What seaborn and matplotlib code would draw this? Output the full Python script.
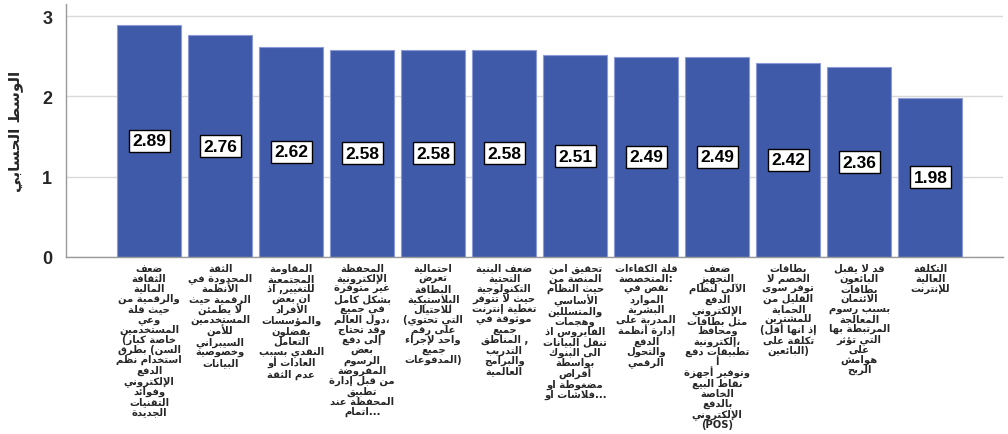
import re

import matplotlib
matplotlib.use("Agg")
import matplotlib.pyplot as plt
import seaborn as sns
import pandas as pd

# mean score for each obstacle (already sorted high -> low)
values = [2.89, 2.76, 2.62, 2.58, 2.58, 2.58, 2.51, 2.49, 2.49, 2.42, 2.36, 1.98]

# category labels, one string per bar, lines as they are wrapped on the chart
labels = [
    "ضعف\nالثقافة\nالمالية\nوالرقمية من\nحيث قلة\nوعي\nالمستخدمين\n(خاصة كبار\nالسن) بطرق\nاستخدام نظم\nالدفع\nالإلكتروني\nوفوائد\nالتقنيات\nالجديدة",
    "الثقة\nالمحدودة في\nالأنظمة\nالرقمية حيث\nلا يطمئن\nالمستخدمين\nللأمن\nالسيبراني\nوخصوصية\nالبيانات",
    "المقاومة\nالمجتمعية\nللتغيير, اذ\nان بعض\nالأفراد\nوالمؤسسات\nيفضلون\nالتعامل\nالنقدي بسبب\nالعادات أو\nعدم الثقة",
    "المحفظة\nالإلكترونية\nغير متوفرة\nبشكل كامل\nفي جميع\nدول العالم،\nوقد تحتاج\nإلى دفع\nبعض\nالرسوم\nالمفروضة\nمن قبل إدارة\nتطبيق\nالمحفظة عند\nاتمام...",
    "احتمالية\nتعرض\nالبطاقة\nالبلاستيكية\nللاحتيال\n(التي تحتوي\nعلى رقم\nواحد لإجراء\nجميع\nالمدفوعات)",
    "ضعف البنية\nالتحتية\nالتكنولوجية\nحيث لا تتوفر\nتغطية إنترنت\nموثوقة في\nجميع\nالمناطق ,\nالتدريب\nوالبرامج\nالعالمية",
    "تحقيق امن\nالمنصة من\nحيث النظام\nالأساسي\nوالمتسللين\nوهجمات\nالفايروس اذ\nتنقل البيانات\nالى البنوك\nبواسطة\nأقراص\nمضغوطة او\nفلاشات او...",
    "قلة الكفاءات\nالمتخصصة:\nنقص في\nالموارد\nالبشرية\nالمدربة على\nإدارة أنظمة\nالدفع\nوالتحول\nالرقمي",
    "ضعف\nالتجهيز\nالآلي لنظام\nالدفع\nالإلكتروني\nمثل بطاقات\nومحافظ\nإلكترونية،\nتطبيقات دفع\nأ\nوتوفير أجهزة\nنقاط البيع\nالخاصة\nبالدفع\nالإلكتروني\n(POS)",
    "بطاقات\nالخصم لا\nتوفر سوى\nالقليل من\nالحماية\nللمشترين\n(إذ انها أقل\nتكلفة على\nالبائعين)",
    "قد لا يقبل\nالبائعون\nبطاقات\nالائتمان\nبسبب رسوم\nالمعالجة\nالمرتبطة بها\nالتي تؤثر\nعلى\nهوامش\nالربح",
    "التكلفة\nالعالية\nللإنترنت",
]

y_label = "الوسط الحسابي"
y_ticks = [0, 1, 2, 3]

# --- small arabic shaping + bidi (matplotlib lays glyphs out left to right, unshaped) ---
TWO = {"آ": 0xFE81, "أ": 0xFE83, "ؤ": 0xFE85, "إ": 0xFE87, "ا": 0xFE8D, "ة": 0xFE93,
       "د": 0xFEA9, "ذ": 0xFEAB, "ر": 0xFEAD, "ز": 0xFEAF, "و": 0xFEED, "ى": 0xFEEF}
FOUR = {"ئ": 0xFE89, "ب": 0xFE8F, "ت": 0xFE95, "ث": 0xFE99, "ج": 0xFE9D, "ح": 0xFEA1,
        "خ": 0xFEA5, "س": 0xFEB1, "ش": 0xFEB5, "ص": 0xFEB9, "ض": 0xFEBD, "ط": 0xFEC1,
        "ظ": 0xFEC5, "ع": 0xFEC9, "غ": 0xFECD, "ف": 0xFED1, "ق": 0xFED5, "ك": 0xFED9,
        "ل": 0xFEDD, "م": 0xFEE1, "ن": 0xFEE5, "ه": 0xFEE9, "ي": 0xFEF1}
LAM_ALEF = {"آ": 0xFEF5, "أ": 0xFEF7, "إ": 0xFEF9, "ا": 0xFEFB}
MIRROR = {"(": ")", ")": "("}


def shape_word(word):
    # contextual forms, still in logical order
    units = []
    i = 0
    while i < len(word):
        if word[i] == "ل" and i + 1 < len(word) and word[i + 1] in LAM_ALEF:
            units.append(("LA", word[i + 1]))
            i += 2
        else:
            units.append(("C", word[i]))
            i += 1
    out = []
    for k, (kind, ch) in enumerate(units):
        prev = k > 0 and units[k - 1][0] == "C" and units[k - 1][1] in FOUR
        if kind == "LA":
            out.append(chr(LAM_ALEF[ch] + (1 if prev else 0)))
            continue
        nxt = k < len(units) - 1 and ch in FOUR
        if ch in FOUR:
            off = 3 if (prev and nxt) else 1 if prev else 2 if nxt else 0
            out.append(chr(FOUR[ch] + off))
        elif ch in TWO:
            out.append(chr(TWO[ch] + (1 if prev else 0)))
        elif ch == "ء":
            out.append("\uFE80")
        else:
            out.append(ch)
    return "".join(out)


def visual(line):
    # left-to-right base direction, arabic runs reversed (as the SPSS output does)
    s = re.sub("[\u0621-\u064A]+", lambda m: shape_word(m.group(0)), line)
    kinds = []
    for ch in s:
        if "\uFE70" <= ch <= "\uFEFF":
            kinds.append("R")
        elif ch.isalnum():
            kinds.append("L")
        else:
            kinds.append("N")
    res = list(kinds)
    for i, k in enumerate(kinds):
        if k != "N":
            continue
        before = next((kinds[j] for j in range(i - 1, -1, -1) if kinds[j] != "N"), "L")
        after = next((kinds[j] for j in range(i + 1, len(s)) if kinds[j] != "N"), "L")
        res[i] = "R" if before == after == "R" else "L"
    out = []
    i = 0
    while i < len(s):
        j = i
        while j < len(s) and res[j] == res[i]:
            j += 1
        chunk = s[i:j]
        if res[i] == "R":
            chunk = "".join(MIRROR.get(c, c) for c in reversed(chunk))
        out.append(chunk)
        i = j
    return "".join(out)


df = pd.DataFrame({"pos": list(range(len(values))), "value": values})

sns.set_theme(style="white")
plt.rcParams["font.family"] = ["Liberation Sans", "DejaVu Sans"]

fig = plt.figure(figsize=(10.08, 4.35), dpi=100)
ax = fig.add_axes([0.0655, 0.407, 0.93, 0.5815])

ax.yaxis.grid(True, color="#d9d9d9", linewidth=1)
ax.set_axisbelow(True)

sns.barplot(data=df, x="pos", y="value", color="#3f5aa8", saturation=1,
            width=0.9, edgecolor="#8c9bd6", linewidth=0.8, ax=ax)

for p, v in zip(df["pos"], df["value"]):
    ax.text(p, v / 2, f"{v:.2f}", ha="center", va="center", fontsize=12.5,
            fontweight="bold", color="black",
            bbox=dict(boxstyle="square,pad=0.2", fc="white", ec="black", lw=1))

ax.set_xlim(-1.17, 12.03)
ax.set_ylim(0, 3.15)
ax.set_yticks(y_ticks)
ax.set_yticklabels([str(t) for t in y_ticks], fontsize=13, fontweight="bold")
ax.tick_params(axis="y", length=0, pad=10)

ax.set_xticks(df["pos"])
ax.set_xticklabels(["\n".join(visual(l) for l in lab.split("\n")) for lab in labels],
                   fontsize=7.2, fontweight="bold", family=["DejaVu Sans"],
                   linespacing=1.0, va="top")
ax.tick_params(axis="x", length=0, pad=4)
ax.set_xlabel("")
ax.set_ylabel(visual(y_label), fontsize=11, fontweight="bold", family=["DejaVu Sans"],
              labelpad=14)

for s in ["top", "right"]:
    ax.spines[s].set_visible(False)
for s in ["left", "bottom"]:
    ax.spines[s].set_color("#999999")
    ax.spines[s].set_linewidth(1)

fig.savefig("out.png", dpi=100)
